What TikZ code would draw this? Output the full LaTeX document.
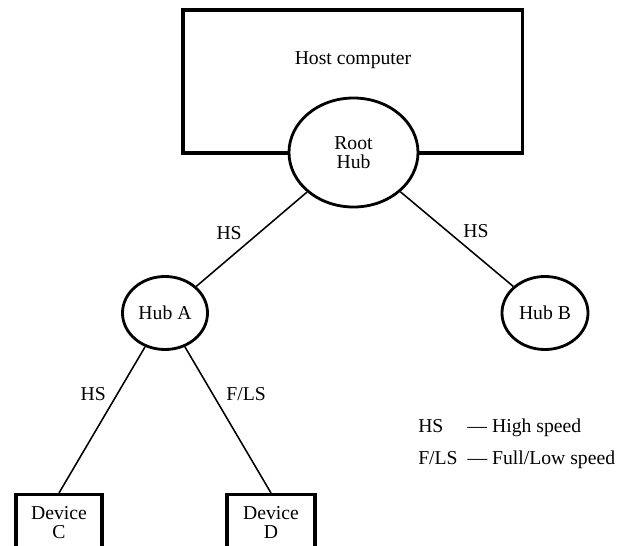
\documentclass[tikz,border=0pt]{standalone}
\usepackage{fontspec}
\setmainfont{Liberation Serif}
\usepackage{tikz}
\usetikzlibrary{shapes,positioning}

\begin{document}
\begin{tikzpicture}[x=0.025cm,y=-0.025cm,
    every node/.style={font=\fontsize{14}{13.5}\selectfont},
    hub/.style={draw,ellipse,line width=2pt,fill=white,inner sep=0,align=center},
    box/.style={draw,rectangle,line width=2.2pt,fill=white,inner sep=0,align=center},
    link/.style={line width=1.1pt}]
  \useasboundingbox (0,0) rectangle (626,546);
  % host computer and its root hub
  \node[box,minimum width=8.475cm,minimum height=3.575cm] (host) at (352.5,81.5) {};
  \node (hostlabel) at (353,60) {Host computer};
  \node[hub,minimum width=3.225cm,minimum height=2.725cm] (root) at (353.5,152.5) {Root\\Hub};
  % hubs
  \node[hub,minimum width=2.125cm,minimum height=1.825cm] (hubA) at (165,313) {Hub A};
  \node[hub,minimum width=2.15cm,minimum height=1.825cm] (hubB) at (545,313) {Hub B};
  % devices
  \node[box,minimum width=2.15cm,minimum height=1.4cm,anchor=north] (devC) at (59,493) {Device\\C};
  \node[box,minimum width=2.2cm,minimum height=1.4cm,anchor=north] (devD) at (271,493) {Device\\D};
  % links
  \draw[link] (root) -- node[pos=.43,left=8.7pt] (hsA) {HS} (hubA);
  \draw[link] (root) -- node[pos=.41,right=8pt] (hsB) {HS} (hubB);
  \draw[link] (hubA) -- node[pos=.32,left=4.5pt] (hsC) {HS} (devC.north);
  \draw[link] (hubA) -- node[pos=.32,right=6pt] (flsD) {F/LS} (devD.north);
  % legend
  \node[anchor=west,inner sep=0] (legend) at (418,444) {%
    \fontsize{14}{17}\selectfont
    \begin{tabular}{@{}p{35pt}@{}l@{}}
      HS & --- High speed\\[5.8pt]
      F/LS & --- Full/Low speed
    \end{tabular}};
\end{tikzpicture}
\end{document}
